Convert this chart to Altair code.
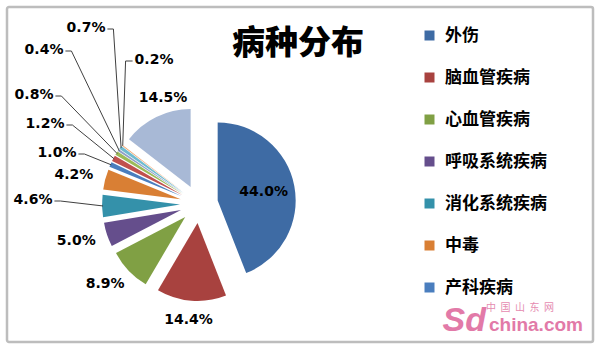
import math
import altair as alt
import pandas as pd

# ---------------- data ----------------
categories = ["外伤", "脑血管疾病", "心血管疾病", "呼吸系统疾病", "消化系统疾病", "中毒", "产科疾病",
              "类别8", "类别9", "类别10", "类别11", "类别12", "其他"]
values = [44.0, 14.4, 8.9, 5.0, 4.6, 4.2, 1.0, 1.2, 0.8, 0.4, 0.7, 0.2, 14.5]
slice_colors = ["#3E6BA4", "#A8423F", "#80A044", "#654E8C", "#3491AA", "#D97F34", "#4A7EBE",
                "#C0504D", "#9BBB59", "#8FA0C9", "#6FBBD0", "#F2A66E", "#A8B9D6"]
legend_items = categories[:7]
title_text = "病种分布"
watermark_cn = "\u00a0\u00a0".join("中国山东网")
watermark_logo = "Sd"
watermark_en = "china.com"

# ---------------- layout ----------------
W, H = 600, 349
CX, CY = 199, 204          # pie centre
R = 78                     # pie radius
EXPLODE = 19               # explosion distance of every slice
GAP = 13                   # gap between slice and outside label
LABEL_H = 12
inside_labels = {0}
# labels that Excel moved away (with leader lines): index -> (x, y)
placed_labels = {4: (33, 200), 6: (57, 153), 7: (45, 124), 8: (34, 95), 9: (44, 50),
                 10: (86, 28), 11: (154, 60), 12: (163, 98)}
leader_labels = [4, 6, 7, 8, 9, 10, 11]
LABEL_FS = 14


def text_width(s):
    w = 0
    for ch in s:
        if ch.isdigit():
            w += 0.696
        elif ch == ".":
            w += 0.38
        else:
            w += 1.002
    return w * LABEL_FS


total = sum(values)
rows = []
cum = 0.0
for i, (c, v) in enumerate(zip(categories, values)):
    start, end = cum, cum + v
    cum = end
    a = 2 * math.pi * (start + v / 2) / total
    s, k = math.sin(a), -math.cos(a)
    label = f"{v:.1f}%"
    lw = text_width(label)
    if i in inside_labels:
        rr = EXPLODE + 0.6 * R
        lx, ly = CX + rr * s, CY + rr * k
    elif i in placed_labels:
        lx, ly = placed_labels[i]
    else:
        rr = EXPLODE + R + GAP
        lx = CX + rr * s + lw / 2 * s
        ly = CY + rr * k + LABEL_H / 2 * k
    rows.append(dict(idx=i, category=c, value=v, start=start, end=end,
                     cx=CX + EXPLODE * s, cy=CY + EXPLODE * k,
                     lx=lx, ly=ly, label=label, lw=lw,
                     tipx=CX + (EXPLODE + R - 1) * s, tipy=CY + (EXPLODE + R - 1) * k))
slices = pd.DataFrame(rows)

lines = []
for i in leader_labels:
    r = rows[i]
    if r["lx"] < r["tipx"] - 10:
        edge = r["lx"] + r["lw"] / 2 + 2
        elbow = edge + 6
    else:
        edge = r["lx"] - r["lw"] / 2 - 2
        elbow = edge - 7
    pts = [(edge, r["ly"] + 1), (elbow, r["ly"] + 1), (r["tipx"], r["tipy"])]
    for o, (px, py) in enumerate(pts):
        lines.append(dict(lid=i, ord=o, x=px, y=py))
leaders = pd.DataFrame(lines)

one = pd.DataFrame({"t": [0]})

frame = alt.Chart(one).mark_rect(fill="white", stroke="#BDBDBD", strokeWidth=2.5, cornerRadius=2).encode(
    x=alt.value(7), x2=alt.value(593), y=alt.value(7), y2=alt.value(342))

arcs = alt.Chart(slices).mark_arc(radius=R).encode(
    theta=alt.Theta("start:Q", stack=False, scale=alt.Scale(domain=[0, total], range=[0, 2 * math.pi])),
    theta2="end:Q",
    x=alt.X("cx:Q", scale=None, axis=None),
    y=alt.Y("cy:Q", scale=None, axis=None),
    color=alt.Color("category:N",
                    scale=alt.Scale(domain=categories, range=slice_colors),
                    legend=alt.Legend(orient="none", legendX=421, legendY=27, title=None,
                                      values=legend_items, symbolType="square", symbolSize=100,
                                      symbolStrokeWidth=0, labelFont="Noto Sans CJK SC",
                                      labelFontSize=17, labelFontWeight="bold", labelColor="black",
                                      labelOffset=7, rowPadding=24, padding=0, labelLimit=300)),
    order=alt.Order("idx:Q"),
)

leader_layer = alt.Chart(leaders).mark_line(color="#404040", strokeWidth=1).encode(
    x=alt.X("x:Q", scale=None, axis=None),
    y=alt.Y("y:Q", scale=None, axis=None),
    detail="lid:N",
    order="ord:Q",
)

labels = alt.Chart(slices).mark_text(font="DejaVu Sans", fontSize=LABEL_FS, fontWeight="bold",
                                     color="black", align="center", baseline="middle").encode(
    x=alt.X("lx:Q", scale=None, axis=None),
    y=alt.Y("ly:Q", scale=None, axis=None),
    text="label:N",
)

title = alt.Chart(pd.DataFrame({"t": [title_text]})).mark_text(
    font="Noto Sans CJK SC", fontSize=33, fontWeight=900, color="black",
    align="center", baseline="middle").encode(x=alt.value(298), y=alt.value(44), text="t:N")

wm1 = alt.Chart(pd.DataFrame({"t": [watermark_cn]})).mark_text(
    font="Noto Sans CJK SC", fontSize=10, color="#E58BB0", align="left", baseline="middle").encode(
    x=alt.value(486), y=alt.value(308), text="t:N")
wm2 = alt.Chart(pd.DataFrame({"t": [watermark_logo]})).mark_text(
    font="Liberation Sans", fontSize=34, fontWeight="bold", fontStyle="italic", color="#E27AA8",
    align="right", baseline="middle").encode(x=alt.value(486), y=alt.value(321), text="t:N")
wm3 = alt.Chart(pd.DataFrame({"t": [watermark_en]})).mark_text(
    font="Liberation Sans", fontSize=19, fontWeight="bold", color="#E27AA8",
    align="left", baseline="middle").encode(x=alt.value(489), y=alt.value(325), text="t:N")

chart = alt.layer(frame, arcs, leader_layer, labels, title, wm1, wm2, wm3).properties(
    width=W, height=H, padding=0, autosize=alt.AutoSizeParams(type="none"), background="white"
).configure_view(stroke=None)

chart.save("out.html", embed_options={"renderer": "svg", "actions": False})
